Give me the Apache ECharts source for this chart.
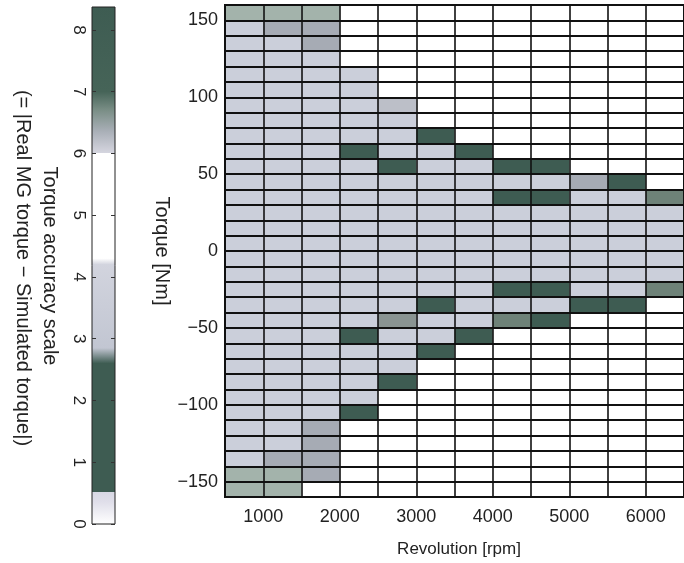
<!DOCTYPE html>
<html>
<head>
<meta charset="utf-8">
<script src="https://cdn.jsdelivr.net/npm/echarts@6/dist/echarts.min.js"></script>
<style>
html, body { margin: 0; background: #fff; }
#main { width: 684px; height: 563px; }
</style>
</head>
<body>
<div id="main"></div>
<script>
// cell edges (rpm / Nm)
var revolutionEdges = [500, 1000, 1500, 2000, 2500, 3000, 3500, 4000, 4500, 5000, 5500, 6000, 6500];
var torqueEdges = [160, 150, 140, 130, 120, 110, 100, 90, 80, 70, 60, 50, 40, 30, 20, 10, 0,
    -10, -20, -30, -40, -50, -60, -70, -80, -90, -100, -110, -120, -130, -140, -150, -160];
var revolutionTicks = [1000, 2000, 3000, 4000, 5000, 6000];
var torqueTicks = [-150, -100, -50, 0, 50, 100, 150];
var scaleTicks = [0, 1, 2, 3, 4, 5, 6, 7, 8];
var scaleMax = 8.37;

// |real - simulated| per cell, rows from top (150..160) to bottom (-160..-150); null = not measured
var accuracy = [
    [6.6, 6.6, 6.6, null, null, null, null, null, null, null, null, null],
    [3.5, 6.35, 6.25, null, null, null, null, null, null, null, null, null],
    [3.5, 3.5, 6.3, null, null, null, null, null, null, null, null, null],
    [3.5, 3.5, 3.5, null, null, null, null, null, null, null, null, null],
    [3.5, 3.5, 3.5, 3.5, null, null, null, null, null, null, null, null],
    [3.5, 3.5, 3.5, 3.5, null, null, null, null, null, null, null, null],
    [3.5, 3.5, 3.5, 3.5, 6.1, null, null, null, null, null, null, null],
    [3.5, 3.5, 3.5, 3.5, 3.5, null, null, null, null, null, null, null],
    [3.5, 3.5, 3.5, 3.5, 3.5, 8, null, null, null, null, null, null],
    [3.5, 3.5, 3.5, 8, 3.5, 3.5, 8, null, null, null, null, null],
    [3.5, 3.5, 3.5, 3.5, 8, 3.5, 3.5, 8, 8, null, null, null],
    [3.5, 3.5, 3.5, 3.5, 3.5, 3.5, 3.5, 3.5, 3.5, 6.35, 8, null],
    [3.5, 3.5, 3.5, 3.5, 3.5, 3.5, 3.5, 8, 8, 3.5, 3.5, 7.0],
    [3.5, 3.5, 3.5, 3.5, 3.5, 3.5, 3.5, 3.5, 3.5, 3.5, 3.5, 3.5],
    [3.5, 3.5, 3.5, 3.5, 3.5, 3.5, 3.5, 3.5, 3.5, 3.5, 3.5, 3.5],
    [3.5, 3.5, 3.5, 3.5, 3.5, 3.5, 3.5, 3.5, 3.5, 3.5, 3.5, 3.5],
    [3.5, 3.5, 3.5, 3.5, 3.5, 3.5, 3.5, 3.5, 3.5, 3.5, 3.5, 3.5],
    [3.5, 3.5, 3.5, 3.5, 3.5, 3.5, 3.5, 3.5, 3.5, 3.5, 3.5, 3.5],
    [3.5, 3.5, 3.5, 3.5, 3.5, 3.5, 3.5, 8, 8, 3.5, 3.5, 7.0],
    [3.5, 3.5, 3.5, 3.5, 3.5, 8, 3.5, 3.5, 3.5, 8, 8, null],
    [3.5, 3.5, 3.5, 3.5, 6.8, 3.5, 3.5, 7.0, 8, null, null, null],
    [3.5, 3.5, 3.5, 8, 3.5, 3.5, 8, null, null, null, null, null],
    [3.5, 3.5, 3.5, 3.5, 3.5, 8, null, null, null, null, null, null],
    [3.5, 3.5, 3.5, 3.5, 3.5, null, null, null, null, null, null, null],
    [3.5, 3.5, 3.5, 3.5, 8, null, null, null, null, null, null, null],
    [3.5, 3.5, 3.5, 3.5, null, null, null, null, null, null, null, null],
    [3.5, 3.5, 3.5, 8, null, null, null, null, null, null, null, null],
    [3.5, 3.5, 6.3, null, null, null, null, null, null, null, null, null],
    [3.5, 3.5, 6.3, null, null, null, null, null, null, null, null, null],
    [3.5, 6.35, 6.3, null, null, null, null, null, null, null, null, null],
    [6.6, 6.5, 6.35, null, null, null, null, null, null, null, null, null],
    [6.6, 6.5, null, null, null, null, null, null, null, null, null, null]
];

// colour scale of the bar on the left (value, colour)
var scaleStops = [
    [0, '#ffffff'], [0.35, '#e0dfea'], [0.52, '#d8d8e4'],
    [0.52, '#3e5c52'], [2.6, '#3e5c52'], [2.85, '#c2c6d2'],
    [4.2, '#d2d4de'], [4.3, '#ffffff'], [6.0, '#ffffff'],
    [6.0, '#d6d6e0'], [6.35, '#aab0b8'], [6.7, '#7a8e86'],
    [7.0, '#466458'], [8.37, '#3e5c52']
];

var cells = [];
accuracy.forEach(function (row, r) {
    row.forEach(function (v, c) {
        if (v === null) return;
        cells.push([revolutionEdges[c], revolutionEdges[c + 1], torqueEdges[r + 1], torqueEdges[r], v]);
    });
});

var font = '"Liberation Sans", Arial, sans-serif';

function renderCell(params, api) {
    var a = api.coord([api.value(0), api.value(3)]);
    var b = api.coord([api.value(1), api.value(2)]);
    return {
        type: 'rect',
        shape: { x: a[0], y: a[1], width: b[0] - a[0], height: b[1] - a[1] },
        style: { fill: api.visual('color') }
    };
}

function renderScale(params, api) {
    var a = api.coord([api.value(0), api.value(3)]);
    var b = api.coord([api.value(1), api.value(2)]);
    var stops = scaleStops.map(function (s) {
        return { offset: s[0] / scaleMax, color: s[1] };
    });
    return {
        type: 'rect',
        shape: { x: a[0], y: a[1], width: b[0] - a[0], height: b[1] - a[1] },
        style: { fill: new echarts.graphic.LinearGradient(0, 1, 0, 0, stops) }
    };
}

function minusLabel(v) {
    return v < 0 ? '\u2212' + (-v) : String(v);
}

var chart = echarts.init(document.getElementById('main'));
chart.setOption({
    animation: false,
    backgroundColor: '#fff',
    textStyle: { fontFamily: font },
    grid: [
        { left: 225, top: 5, right: -6, bottom: 65, show: true, borderColor: '#111', borderWidth: 2, z: 5 },
        { left: 92, top: 7, width: 23, height: 517, show: true, borderColor: '#222', borderWidth: 1, z: 5 }
    ],
    xAxis: [
        {
            type: 'value', gridIndex: 0, min: 500, max: 6500, interval: 500, z: 5,
            name: 'Revolution [rpm]', nameLocation: 'middle', nameGap: 44,
            nameTextStyle: { fontSize: 17, color: '#222', fontFamily: font, padding: [0, 0, 0, 9] },
            axisLine: { show: false },
            axisTick: { show: false },
            axisLabel: {
                customValues: revolutionTicks, fontSize: 18, color: '#222', margin: 11,
                formatter: function (v) { return String(v); }
            },
            splitLine: { show: true, lineStyle: { color: '#111', width: 1.6 } }
        },
        {
            type: 'value', gridIndex: 1, min: 0, max: 1, show: false
        }
    ],
    yAxis: [
        {
            type: 'value', gridIndex: 0, min: -160, max: 160, interval: 10, z: 5,
            name: 'Torque [Nm]', nameLocation: 'middle', nameRotate: -90, nameGap: 53,
            nameMoveOverlap: false,
            nameTextStyle: { fontSize: 20, color: '#222', fontFamily: font },
            axisLine: { show: false },
            axisTick: { show: false },
            axisLabel: {
                customValues: torqueTicks, fontSize: 18, color: '#222', margin: 7,
                formatter: minusLabel
            },
            splitLine: { show: true, lineStyle: { color: '#111', width: 2 } }
        },
        {
            type: 'value', gridIndex: 1, min: 0, max: scaleMax, z: 6, position: 'left',
            axisLine: { show: false },
            axisTick: { show: true, inside: true, length: 4, customValues: scaleTicks, lineStyle: { color: '#333' } },
            axisLabel: {
                customValues: scaleTicks, rotate: -90, fontSize: 17, color: '#222', margin: 5
            },
            splitLine: { show: false }
        },
        {
            type: 'value', gridIndex: 1, min: 0, max: scaleMax, z: 6, position: 'right',
            axisLine: { show: false },
            axisTick: { show: true, inside: true, length: 4, customValues: scaleTicks, lineStyle: { color: '#333' } },
            axisLabel: { show: false },
            splitLine: { show: false }
        }
    ],
    visualMap: {
        type: 'piecewise', show: false, seriesIndex: 0, dimension: 4,
        pieces: [
            { min: 0, max: 0.5, color: '#e2e2ec' },
            { min: 0.5, max: 2.7, color: '#3e5c52' },
            { min: 2.7, max: 4.3, color: '#cbcfda' },
            { min: 4.3, max: 6.0, color: '#ffffff' },
            { min: 6.0, max: 6.2, color: '#bcbfc8' },
            { min: 6.2, max: 6.45, color: '#a6abb4' },
            { min: 6.45, max: 6.75, color: '#a3b3ab' },
            { min: 6.75, max: 6.9, color: '#8a9492' },
            { min: 6.9, max: 7.3, color: '#6e8278' },
            { min: 7.3, max: 9, color: '#3e5c52' }
        ]
    },
    graphic: [
        {
            type: 'text', x: 50, y: 266, rotation: -Math.PI / 2,
            style: { text: 'Torque accuracy scale', font: '20px ' + font, fill: '#222', align: 'center', verticalAlign: 'middle' }
        },
        {
            type: 'text', x: 23, y: 268, rotation: -Math.PI / 2,
            style: { text: '(= |Real MG torque \u2212 Simulated torque|)', font: '20px ' + font, fill: '#222', align: 'center', verticalAlign: 'middle' }
        }
    ],
    series: [
        {
            type: 'custom', xAxisIndex: 0, yAxisIndex: 0,
            renderItem: renderCell,
            encode: { x: [0, 1], y: [2, 3] },
            data: cells
        },
        {
            type: 'custom', xAxisIndex: 1, yAxisIndex: 1,
            renderItem: renderScale,
            encode: { x: [0, 1], y: [2, 3] },
            data: [[0, 1, 0, scaleMax]]
        }
    ]
});
</script>
</body>
</html>
